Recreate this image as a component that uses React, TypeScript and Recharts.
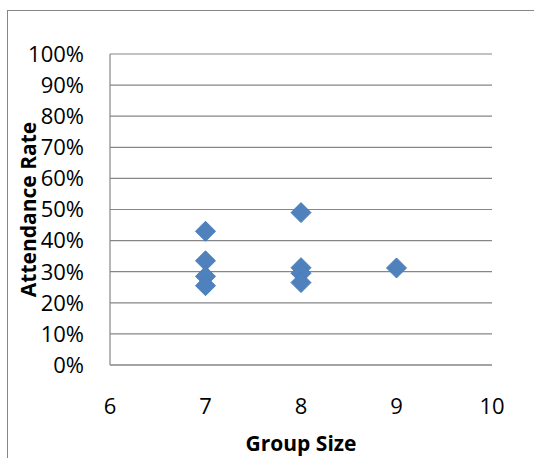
import React from 'react';
import { ScatterChart, Scatter, XAxis, YAxis, CartesianGrid } from 'recharts';

// group size (x) and attendance rate (y) for each group
const groupSizes = [7, 7, 7, 7, 8, 8, 8, 8, 9];
const attendanceRates = [0.43, 0.335, 0.285, 0.255, 0.49, 0.313, 0.295, 0.265, 0.312];

const xTicks = [6, 7, 8, 9, 10];
const yTicks = [0, 0.1, 0.2, 0.3, 0.4, 0.5, 0.6, 0.7, 0.8, 0.9, 1];

const FONT = '"Open Sans", "Noto Sans", sans-serif';
const GRID = '#868686';
const MARKER = '#4F81BD';

const points = groupSizes.map((x, i) => ({ x, y: attendanceRates[i] }));

// excel style diamond marker
// eslint-disable-next-line @typescript-eslint/no-explicit-any
const Diamond = (props: any) => {
    const { cx, cy } = props;
    const r = 10;
    return (
        <polygon
            points={`${cx},${cy - r} ${cx + r},${cy} ${cx},${cy + r} ${cx - r},${cy}`}
            fill={MARKER}
            stroke="#4A7EBB"
            strokeWidth={1}
        />
    );
};

export default function App() {
    return (
        <div style={{ position: 'absolute', left: 0, top: 0, width: 534, height: 458, background: '#fff', overflow: 'hidden' }}>
            {/* chart frame */}
            <div style={{ position: 'absolute', left: 7, top: 10, width: 600, height: 500, border: `1px solid ${GRID}` }} />
            <ScatterChart width={534} height={458} margin={{ top: 54, right: 42, bottom: 0, left: 0 }}>
                <CartesianGrid horizontal vertical={false} stroke={GRID} strokeWidth={1.2} />
                <XAxis
                    type="number"
                    dataKey="x"
                    domain={[6, 10]}
                    ticks={xTicks}
                    height={93}
                    axisLine={{ stroke: GRID, strokeWidth: 1.2 }}
                    tickLine={false}
                    tickSize={0}
                    tickMargin={33}
                    tick={{ fill: '#000', fontSize: 22, fontFamily: FONT }}
                    label={{
                        // eslint-disable-next-line @typescript-eslint/no-explicit-any
                        content: ({ viewBox }: any) => (
                            <text
                                x={viewBox.x + viewBox.width / 2}
                                y={443}
                                textAnchor="middle"
                                dominantBaseline="central"
                                fontFamily={FONT}
                                fontWeight="bold"
                                fontSize={21}
                                fill="#000"
                            >
                                Group Size
                            </text>
                        )
                    }}
                />
                <YAxis
                    type="number"
                    dataKey="y"
                    domain={[0, 1]}
                    ticks={yTicks}
                    width={110}
                    axisLine={{ stroke: GRID, strokeWidth: 1.2 }}
                    tickLine={false}
                    tickSize={0}
                    tickMargin={26}
                    tickFormatter={(v: number) => `${Math.round(v * 100)}%`}
                    tick={{ fill: '#000', fontSize: 22, fontFamily: FONT }}
                    label={{
                        // eslint-disable-next-line @typescript-eslint/no-explicit-any
                        content: ({ viewBox }: any) => {
                            const cx = 28;
                            const cy = viewBox.y + viewBox.height / 2;
                            return (
                                <text
                                    x={cx}
                                    y={cy}
                                    transform={`rotate(-90, ${cx}, ${cy})`}
                                    textAnchor="middle"
                                    dominantBaseline="central"
                                    fontFamily={FONT}
                                    fontWeight="bold"
                                    fontSize={21}
                                    fill="#000"
                                >
                                    Attendance Rate
                                </text>
                            );
                        }
                    }}
                />
                <Scatter data={points} shape={<Diamond />} isAnimationActive={false} />
            </ScatterChart>
        </div>
    );
}
